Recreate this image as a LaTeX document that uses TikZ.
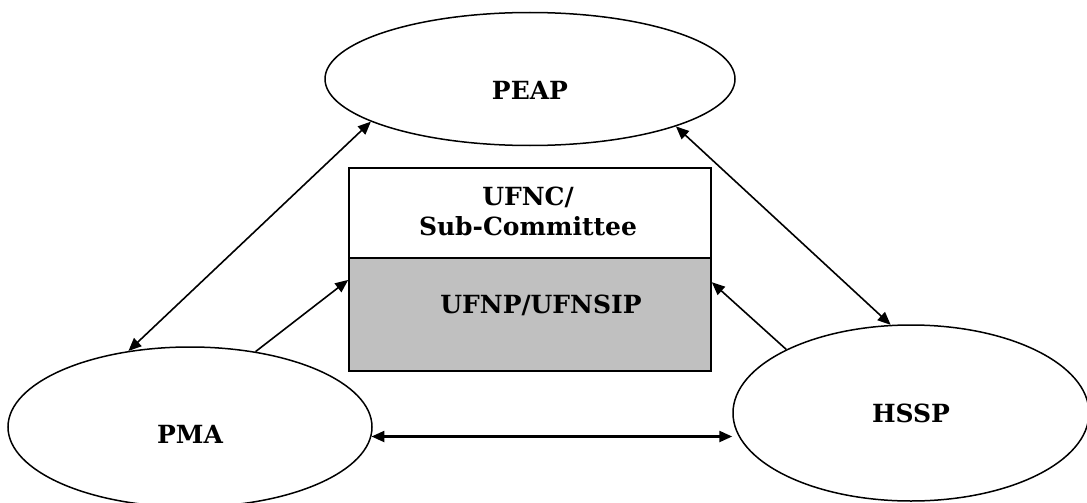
\documentclass[tikz,border=0pt]{standalone}
\usepackage{fontspec}
\setmainfont{DejaVu Serif}
\usetikzlibrary{shapes.geometric,arrows.meta,calc}
\begin{document}
\begin{tikzpicture}[x=1pt,y=-1pt,
  party/.style={draw=black,line width=1.5pt,ellipse,inner sep=0pt},
  lbl/.style={font=\fontsize{25}{30}\selectfont\bfseries,align=center,inner sep=0pt},
  panel/.style={draw=black,line width=1.6pt,rectangle,inner sep=0pt,minimum width=362pt},
  link/.style={line width=1.6pt,{Triangle[length=13pt,width=11pt]}-{Triangle[length=13pt,width=11pt]}},
  feed/.style={line width=1.6pt,-{Triangle[length=13pt,width=11pt]}}]
\useasboundingbox (0,0) rectangle (1087,503);
\clip (0,0) rectangle (1087,503);
\fill[white] (0,0) rectangle (1087,503);

% the three partners
\node[party,minimum width=410pt,minimum height=133pt] (peap) at (530,79) {};
\node[party,minimum width=364pt,minimum height=160pt] (pma) at (190,427) {};
\node[party,minimum width=356pt,minimum height=176pt] (hssp) at (911,413) {};
\node[lbl] (peaptxt) at (530,90) {PEAP};
\node[lbl] (pmatxt) at (190,434) {PMA};
\node[lbl] (hssptxt) at (911,413) {HSSP};

% central committee block
\node[panel,minimum height=90pt,anchor=north] (ufnc) at (530,167) {};
\node[panel,minimum height=113pt,anchor=north,fill={rgb,255:red,192;green,192;blue,192}] (ufnp) at (530,257) {};
\node[lbl] (ufnctxt) at (528,211) {UFNC/\\Sub-Committee};
\node[lbl] (ufnptxt) at (541,305) {UFNP/UFNSIP};

% links between partners
\draw[link] (peap.195) -- (pma.129);
\draw[link] (peap.342.7) -- (hssp.103.7);
\draw[link,line width=2.4pt] (pma.-3.5) -- (hssp.west |- pma.-3.5);

% feeds into the central block
\draw[feed] (pma.49.3) -- ($(ufnp.north west)!0.2!(ufnp.south west)$);
\draw[feed] (hssp.153.8) -- ($(ufnp.north east)!0.22!(ufnp.south east)$);
\end{tikzpicture}
\end{document}
